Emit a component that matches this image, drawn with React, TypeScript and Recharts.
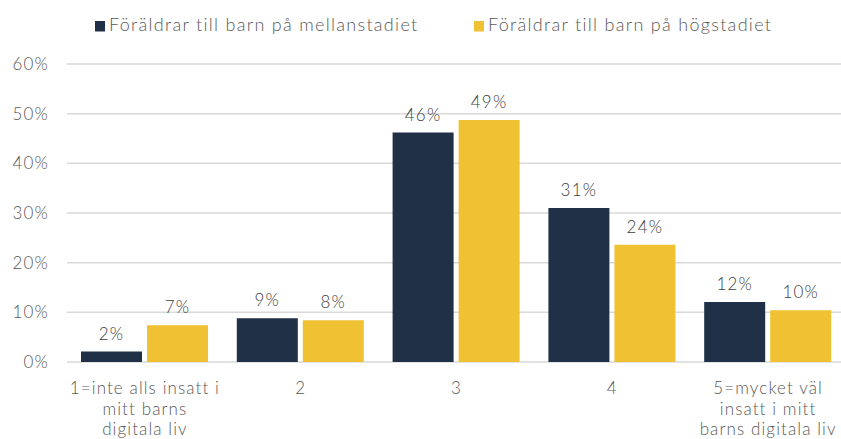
import { BarChart, Bar, XAxis, YAxis, CartesianGrid, Legend, LabelList } from 'recharts'

const categories = [
  '1=inte alls insatt i\nmitt barns\ndigitala liv',
  '2',
  '3',
  '4',
  '5=mycket väl\ninsatt i mitt\nbarns digitala liv',
]
const mellanstadiet = [2.1, 8.8, 46.2, 31.0, 12.1]
const hogstadiet = [7.4, 8.4, 48.7, 23.6, 10.4]
const yTicks = [0, 10, 20, 30, 40, 50, 60]

const seriesNames = ['Föräldrar till barn på mellanstadiet', 'Föräldrar till barn på högstadiet']

const data = categories.map((c, i) => ({
  cat: c,
  mellan: mellanstadiet[i],
  hog: hogstadiet[i],
}))

const FONT = 'Lato, "Open Sans", sans-serif'

function CatTick({ x, y, payload }: any) {
  const lines = String(payload.value).split('\n')
  return (
    <text x={x} y={y} textAnchor="middle" fill="#595959" fontSize={17} fontWeight={300} fontFamily={FONT} letterSpacing={1.1}>
      {lines.map((l, i) => (
        <tspan key={i} x={x} dy={i === 0 ? 24 : 20.5}>{l}</tspan>
      ))}
    </text>
  )
}

function LegendBox({ payload }: any) {
  const xs = [95, 474]
  // keep series order as declared
  const items = [...(payload || [])].sort((a: any, b: any) => seriesNames.indexOf(a.value) - seriesNames.indexOf(b.value))
  return (
    <svg width={846} height={40}>
      {items.map((p: any, i: number) => (
        <g key={i}>
          <rect x={xs[i]} y={21} width={10} height={10.5} fill={p.color} />
          <text x={xs[i] + 14} y={31} fill="#595959" fontSize={18} fontWeight={300} fontFamily={FONT} letterSpacing={1.3}>{p.value}</text>
        </g>
      ))}
    </svg>
  )
}

export default function App() {
  return (
    <div style={{ position: 'absolute', left: 0, top: 0, width: 841, height: 439, overflow: 'hidden', background: '#fff' }}>
      <BarChart width={846} height={439} data={data} margin={{ top: 64, right: 0, left: 0, bottom: 0 }} barGap={5} barCategoryGap={14}>
        <CartesianGrid vertical={false} stroke="#d9d9d9" strokeWidth={1.5} />
        <XAxis dataKey="cat" axisLine={false} tickLine={false} height={77} interval={0} tick={<CatTick />} />
        <YAxis
          width={67}
          domain={[0, 60]}
          ticks={yTicks}
          axisLine={false}
          tickLine={false}
          tickSize={0}
          tickMargin={18}
          tickFormatter={(v: number) => `${v}%`}
          tick={{ fill: '#595959', fontSize: 17, fontWeight: 300, fontFamily: FONT, letterSpacing: 1.2 }}
        />
        <Legend
          layout="horizontal"
          verticalAlign="middle"
          align="center"
          wrapperStyle={{ top: 0, left: 0, width: 846, height: 40 }}
          content={<LegendBox />}
        />
        <Bar dataKey="mellan" name={seriesNames[0]} fill="#1f3047" isAnimationActive={false}>
          <LabelList dataKey="mellan" position="top" offset={12} formatter={(v: any) => `${Math.round(v)}%`} fill="#404040" fontSize={17} fontWeight={300} fontFamily={FONT} letterSpacing={1.2} />
        </Bar>
        <Bar dataKey="hog" name={seriesNames[1]} fill="#f0c132" isAnimationActive={false}>
          <LabelList dataKey="hog" position="top" offset={12} formatter={(v: any) => `${Math.round(v)}%`} fill="#404040" fontSize={17} fontWeight={300} fontFamily={FONT} letterSpacing={1.2} />
        </Bar>
      </BarChart>
    </div>
  )
}
